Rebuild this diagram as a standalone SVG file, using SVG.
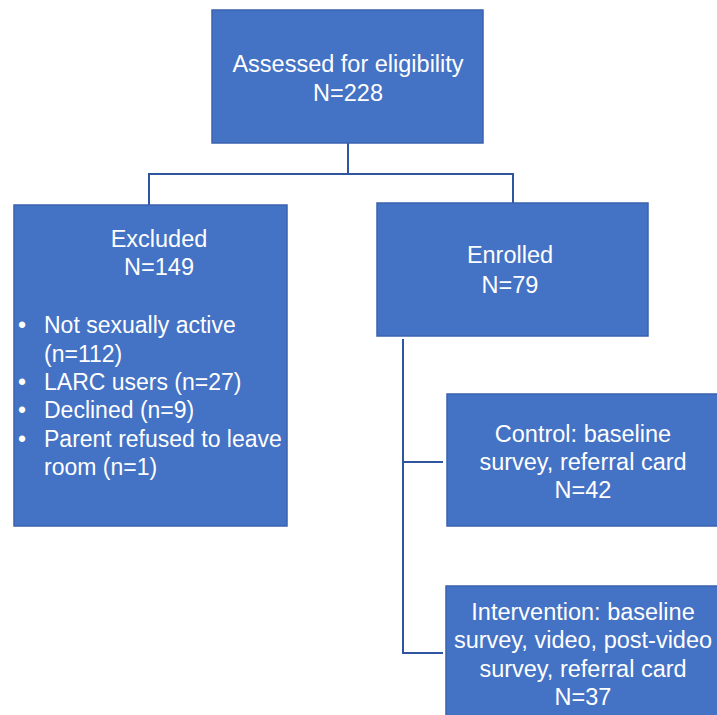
<svg xmlns="http://www.w3.org/2000/svg" width="717" height="715" viewBox="0 0 717 715">
<style>
.box{fill:#4472C4;stroke:#3A62AE;stroke-width:1.5}
.t{font-family:"Liberation Sans",Arial,sans-serif;font-size:23.5px;fill:#FFFFFF;text-anchor:middle}
.l{font-family:"Liberation Sans",Arial,sans-serif;font-size:23px;fill:#FFFFFF}
.c{fill:none;stroke:#2F55A0;stroke-width:2}
</style>
<rect width="717" height="715" fill="#FFFFFF"/>
<g id="connectors">
<path class="c" d="M348,143 V174 H149 V205"/>
<path class="c" d="M348,174 H513 V204"/>
<path class="c" d="M403,339 V653 H443"/>
<path class="c" d="M403,462 H443"/>
</g>
<g id="assessed">
<rect class="box" x="212" y="10" width="271" height="133"/>
<text class="t" x="348" y="72">Assessed for eligibility</text>
<text class="t" x="348" y="101">N=228</text>
</g>
<g id="excluded">
<rect class="box" x="14" y="205" width="273" height="321"/>
<text class="t" x="159" y="247">Excluded</text>
<text class="t" x="159" y="275">N=149</text>
<g class="l">
<text x="18" y="333">•</text><text x="44" y="333">Not sexually active</text>
<text x="44" y="362">(n=112)</text>
<text x="18" y="390">•</text><text x="44" y="390">LARC users (n=27)</text>
<text x="18" y="418">•</text><text x="44" y="418">Declined (n=9)</text>
<text x="18" y="447">•</text><text x="44" y="447">Parent refused to leave</text>
<text x="44" y="475">room (n=1)</text>
</g>
</g>
<g id="enrolled">
<rect class="box" x="377" y="203" width="271" height="133"/>
<text class="t" x="510" y="263">Enrolled</text>
<text class="t" x="510" y="293">N=79</text>
</g>
<g id="control">
<rect class="box" x="447" y="394" width="272" height="132"/>
<text class="t" x="583" y="442">Control: baseline</text>
<text class="t" x="583" y="470">survey, referral card</text>
<text class="t" x="583" y="498">N=42</text>
</g>
<g id="intervention">
<rect class="box" x="446" y="586" width="273" height="132"/>
<text class="t" x="583" y="620">Intervention: baseline</text>
<text class="t" x="583" y="648">survey, video, post-video</text>
<text class="t" x="583" y="677">survey, referral card</text>
<text class="t" x="583" y="705">N=37</text>
</g>
</svg>
